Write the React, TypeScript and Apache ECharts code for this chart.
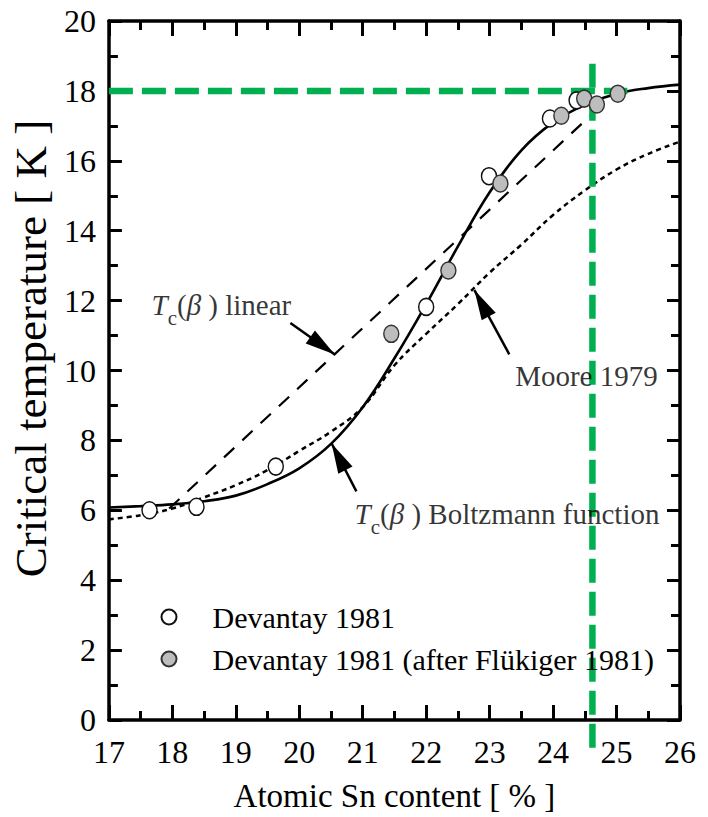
import React, { useEffect, useRef } from "react";
import * as echarts from "echarts";

const FONT = "'Liberation Serif', 'Times New Roman', Times, serif";

// axis ranges / tick steps
const xRange = [17, 26];
const yRange = [0, 20];
const xStep = 1;
const yStep = 2;

// Tc(beta) Boltzmann function (solid)
const boltzmannX = [17, 17.5, 18, 18.5, 19, 19.5, 20, 20.5, 21, 21.5, 22, 22.5, 23, 23.5, 24, 24.5, 25, 25.5, 26];
const boltzmannY = [6.08, 6.12, 6.17, 6.26, 6.42, 6.75, 7.2, 7.9, 8.95, 10.35, 11.9, 13.55, 15.1, 16.3, 17.1, 17.6, 17.92, 18.08, 18.18];

// Tc(beta) linear (dashed)
const linearX = [17.95, 24.8];
const linearY = [6.05, 17.65];

// Moore 1979 (dotted)
const mooreX = [17, 17.5, 18, 18.5, 19, 19.5, 20, 20.5, 21, 21.5, 22, 22.5, 23, 23.5, 24, 24.5, 25, 25.5, 26];
const mooreY = [5.74, 5.86, 6.05, 6.37, 6.72, 7.15, 7.7, 8.25, 8.95, 10.15, 11.05, 11.9, 12.8, 13.6, 14.45, 15.15, 15.75, 16.2, 16.55];

// Devantay 1981 (open circles)
const devantayX = [17.64, 18.38, 19.63, 22.0, 22.99, 23.95, 24.37];
const devantayY = [6.0, 6.1, 7.25, 11.82, 15.56, 17.21, 17.73];

// Devantay 1981 (after Flükiger 1981) (grey circles)
const flukigerX = [21.45, 22.35, 23.17, 24.13, 24.49, 24.69, 25.02];
const flukigerY = [11.05, 12.86, 15.35, 17.29, 17.78, 17.61, 17.92];

// green guide lines
const guideTc = 18;
const guideSn = 24.62;
const guideHx = [17, 25.17];
const guideVy = [18.78, -0.96];

// annotation arrows: [fromX, fromY, toX, toY]
const arrowLinear = [19.86, 11.36, 20.56, 10.46];
const arrowMoore = [23.31, 10.46, 22.76, 12.3];
const arrowBoltz = [20.9, 6.54, 20.51, 7.91];

// annotation label anchors (left edge, middle)
const labelNames = ["linear", "moore", "boltz"];
const labelX = [17.68, 23.41, 20.88];
const labelY = [11.86, 9.82, 5.88];
const labelTexts = [
  "{i|T}{s|c}{n|(}{i|β}{n| ) linear}",
  "{n|Moore 1979}",
  "{i|T}{s|c}{n|(}{i|β}{n| ) Boltzmann function}",
];

const seriesNames = ["Devantay 1981", "Devantay 1981 (after Flükiger 1981)"];

const zip = (xs: number[], ys: number[]) => xs.map((x, i) => [x, ys[i]]);
const ELLIPSE = "path://M0,10A10,10,0,1,1,20,10A10,10,0,1,1,0,10Z";

const arrowItem = (a: number[]) => [
  { coord: [a[0], a[1]], symbol: "none" },
  { coord: [a[2], a[3]], symbol: "triangle", symbolSize: [16, 30], symbolOffset: [0, 15] },
];

export default function App() {
  const ref = useRef<HTMLDivElement>(null);
  useEffect(() => {
    if (!ref.current) return;
    const chart = echarts.init(ref.current, undefined, { renderer: "svg" });
    const axisLine = { show: true, onZero: false, lineStyle: { color: "#000", width: 3.5 } };
    const xTick = { show: true, inside: true, length: 15, lineStyle: { color: "#000", width: 3 } };
    const xMinor = { show: true, splitNumber: 2, length: 9, lineStyle: { color: "#000", width: 3 } };
    const yTick = { show: true, inside: true, length: 13, lineStyle: { color: "#000", width: 3 } };
    const yMinor = { show: true, splitNumber: 2, length: 9, lineStyle: { color: "#000", width: 3 } };
    const rich = {
      n: { fontFamily: FONT, fontSize: 29, lineHeight: 48, color: "#000" },
      i: { fontFamily: FONT, fontSize: 29, lineHeight: 48, fontStyle: "italic", color: "#000" },
      s: { fontFamily: FONT, fontSize: 21, lineHeight: 21, verticalAlign: "bottom", color: "#000" },
    };
    chart.setOption({
      animation: false,
      backgroundColor: "#fff",
      grid: { left: 105, right: 28, top: 21, bottom: 91, containLabel: false },
      legend: {
        show: true,
        data: seriesNames,
        orient: "vertical",
        left: 160.5,
        top: 600,
        padding: 0,
        itemWidth: 15,
        itemHeight: 17,
        itemGap: 8,
        selectedMode: false,
        textStyle: { fontFamily: FONT, fontSize: 30, lineHeight: 34, color: "#000", padding: [0, 0, 0, 31] },
      },
      xAxis: [
        {
          type: "value",
          min: xRange[0],
          max: xRange[1],
          interval: xStep,
          axisLine,
          axisTick: xTick,
          minorTick: xMinor,
          splitLine: { show: false },
          axisLabel: { show: true, margin: 16, fontFamily: FONT, fontSize: 32, color: "#000" },
          name: "Atomic Sn content [ % ]",
          nameLocation: "middle",
          nameGap: 59,
          nameTextStyle: { fontFamily: FONT, fontSize: 33, color: "#000" },
        },
        {
          type: "value",
          position: "top",
          min: xRange[0],
          max: xRange[1],
          interval: xStep,
          axisLine,
          axisTick: xTick,
          minorTick: xMinor,
          splitLine: { show: false },
          axisLabel: { show: false },
        },
      ],
      yAxis: [
        {
          type: "value",
          min: yRange[0],
          max: yRange[1],
          interval: yStep,
          axisLine,
          axisTick: yTick,
          minorTick: yMinor,
          splitLine: { show: false },
          axisLabel: { show: true, margin: 13, fontFamily: FONT, fontSize: 32, color: "#000" },
          name: "Critical temperature [ K ]",
          nameLocation: "middle",
          nameRotate: 90,
          nameGap: 55,
          nameTextStyle: { fontFamily: FONT, fontSize: 45, color: "#000", padding: [0, 0, 0, 44] },
        },
        {
          type: "value",
          position: "right",
          min: yRange[0],
          max: yRange[1],
          interval: yStep,
          axisLine,
          axisTick: yTick,
          minorTick: yMinor,
          splitLine: { show: false },
          axisLabel: { show: false },
        },
      ],
      series: [
        {
          name: "Moore 1979",
          type: "line",
          data: zip(mooreX, mooreY),
          smooth: 0.4,
          showSymbol: false,
          symbol: "none",
          silent: true,
          lineStyle: { color: "#000", width: 2.5, type: [5, 4] },
          z: 2,
        },
        {
          name: "Tc linear",
          type: "line",
          data: zip(linearX, linearY),
          showSymbol: false,
          symbol: "none",
          silent: true,
          lineStyle: { color: "#000", width: 2.2, type: [14, 11] },
          z: 2,
          markLine: {
            silent: true,
            symbol: ["none", "triangle"],
            symbolSize: 20,
            label: { show: false },
            emphasis: { disabled: true },
            lineStyle: { color: "#000", width: 2.5, type: "solid" },
            itemStyle: { color: "#000" },
            data: [arrowItem(arrowLinear), arrowItem(arrowMoore), arrowItem(arrowBoltz)],
          },
        },
        {
          name: "Tc Boltzmann",
          type: "line",
          data: zip(boltzmannX, boltzmannY),
          smooth: 0.4,
          showSymbol: false,
          symbol: "none",
          silent: true,
          lineStyle: { color: "#000", width: 2.6, type: "solid" },
          z: 2,
        },
        {
          name: "guide Tc",
          type: "line",
          data: guideHx.map((x) => [x, guideTc]),
          showSymbol: false,
          symbol: "none",
          silent: true,
          clip: false,
          lineStyle: { color: "#00b050", width: 6.5, type: [24, 9] },
          z: 3,
        },
        {
          name: "guide Sn",
          type: "line",
          data: guideVy.map((y) => [guideSn, y]),
          showSymbol: false,
          symbol: "none",
          silent: true,
          clip: false,
          lineStyle: { color: "#00b050", width: 6.5, type: [24, 9] },
          z: 3,
        },
        {
          name: seriesNames[0],
          type: "scatter",
          data: zip(devantayX, devantayY),
          symbol: ELLIPSE,
          symbolSize: [15, 17],
          silent: true,
          itemStyle: { color: "#ffffff", borderColor: "#111", borderWidth: 1.5, opacity: 1 },
          z: 4,
        },
        {
          name: seriesNames[1],
          type: "scatter",
          data: zip(flukigerX, flukigerY),
          symbol: ELLIPSE,
          symbolSize: [15, 17],
          silent: true,
          itemStyle: { color: "#bdbdbd", borderColor: "#333", borderWidth: 1.5, opacity: 1 },
          z: 4,
        },
        {
          name: "annotations",
          type: "scatter",
          data: labelNames.map((n, i) => ({ name: n, value: [labelX[i], labelY[i]] })),
          symbolSize: 1,
          silent: true,
          itemStyle: { color: "rgba(0,0,0,0)" },
          label: {
            show: true,
            position: [0, 0],
            align: "left",
            verticalAlign: "middle",
            formatter: (p: any) => labelTexts[p.dataIndex],
            rich,
          },
          z: 5,
        },
      ],
    });
    return () => chart.dispose();
  }, []);
  return <div ref={ref} style={{ position: "absolute", left: 0, top: 0, width: 708, height: 817 }} />;
}
